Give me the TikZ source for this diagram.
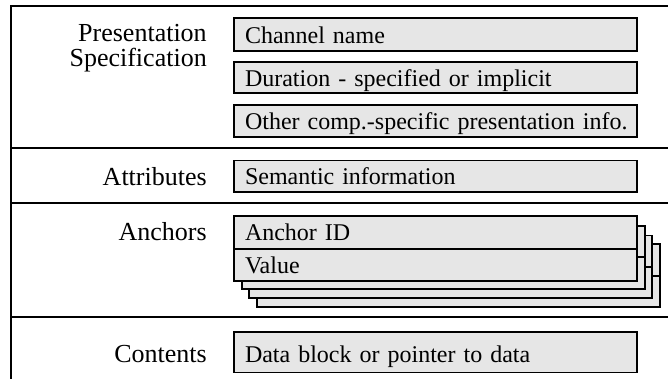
\documentclass[tikz,border=0pt]{standalone}
\usepackage{fontspec}
\setmainfont{Liberation Serif}
\definecolor{fieldfill}{RGB}{230,230,230}
\begin{document}
\begin{tikzpicture}[x=0.75pt,y=-0.75pt,
  txt/.style={font=\fontsize{18}{18.75}\selectfont},
  bigtxt/.style={font=\fontsize{19.5}{18.75}\selectfont},
  frame/.style={line width=1.5pt},
  field/.style={txt, draw, line width=1.3pt, fill=fieldfill, anchor=north west,
    outer sep=0pt, inner xsep=8.25pt, inner ysep=0pt,
    minimum width=302.25pt, text width=285.75pt, align=left,
    text height=14pt, text depth=1pt},
  card/.style={draw, line width=1.3pt, fill=fieldfill, anchor=north west,
    outer sep=0pt, inner sep=0pt, minimum width=302.25pt, minimum height=47pt},
  cardline/.style={line width=1.3pt},
  rowlabel/.style={bigtxt, anchor=base east, align=right, inner sep=0pt}
]
\useasboundingbox (0,0) rectangle (668,379);

% outer frame, open on the right and at the bottom
\coordinate (tl) at (11,6);
\coordinate (tr) at (668,6);
\coordinate (bl) at (11,379);
\coordinate (s1l) at (11,148);   \coordinate (s1r) at (668,148);
\coordinate (s2l) at (11,203);   \coordinate (s2r) at (668,203);
\coordinate (s3l) at (11,317);   \coordinate (s3r) at (668,317);
\draw[frame] (tr) -- (tl) -- (bl);
\draw[frame] (s1l) -- (s1r);
\draw[frame] (s2l) -- (s2r);
\draw[frame] (s3l) -- (s3r);

% row labels (base anchor sits on the last line)
\node[rowlabel] (lpres) at (207,66.7) {Presentation\\Specification};
\node[rowlabel] (lattr) at (207,185) {Attributes};
\node[rowlabel] (lanch) at (207,240) {Anchors};
\node[rowlabel] (lcont) at (207,362) {Contents};

% presentation specification fields
\node[field, minimum height=24.75pt] (chan) at (234,18) {Channel name};
\node[field, minimum height=23.5pt] (dur) at (234,62) {Duration - specified or implicit};
\node[field, minimum height=24pt] (other) at (234,105) {\mbox{Other comp.-specific presentation info.}};

% attributes
\node[field, minimum height=23.6pt] (sem) at (234,160.5) {Semantic information};

% stacked anchor records, back to front
\node[card] (c3) at (256.7,244) {};
\draw[cardline] ([yshift=-24pt]c3.north west) -- ([yshift=-24pt]c3.north east);
\node[card] (c2) at (249.2,235.5) {};
\draw[cardline] ([yshift=-23.5pt]c2.north west) -- ([yshift=-23.5pt]c2.north east);
\node[card] (c1) at (241.7,226) {};
\draw[cardline] ([yshift=-23.5pt]c1.north west) -- ([yshift=-23.5pt]c1.north east);
\node[field, minimum height=25pt, text height=12.5pt, text depth=1pt] (aid) at (234,216) {Anchor ID};
\node[field, minimum height=23.6pt, text height=13pt, text depth=1pt] (val) at (234,249.5) {Value};

% contents
\node[field, minimum height=30.3pt, text height=15pt, text depth=0pt] (data) at (234,332) {Data block or pointer to data};
\end{tikzpicture}
\end{document}
